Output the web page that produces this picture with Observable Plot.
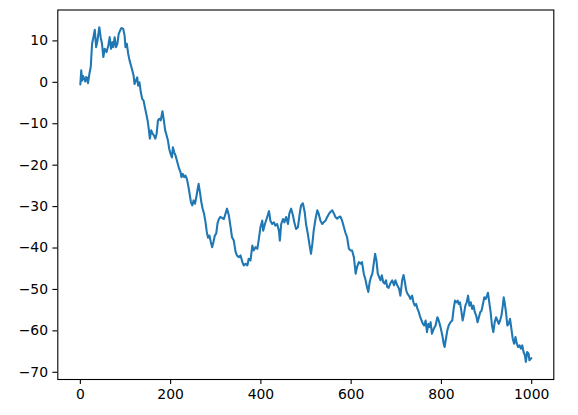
<!DOCTYPE html>
<html>
<head>
<meta charset="utf-8">
<script src="https://cdn.jsdelivr.net/npm/d3@7"></script>
<script src="https://cdn.jsdelivr.net/npm/@observablehq/plot@0.6"></script>
<style>
  html, body { margin: 0; padding: 0; background: white; }
  #chart svg { display: block; }
</style>
</head>
<body>
<div id="chart"></div>
<script>
const steps = [0,2,4,6,8,11,13,15,17,20,23,26,29,32,35,38,42,45,48,51,54,58,62,65,68,71,73,76,79,82,85,88,91,95,98,100,103,106,109,112,115,118,120,123,126,128,131,134,137,140,143,146,149,152,154,157,160,163,166,169,172,175,178,182,185,188,191,194,197,200,203,205,208,211,213,216,219,222,224,227,230,233,236,239,242,245,248,251,254,257,260,262,265,268,271,274,277,280,283,286,289,292,295,298,301,304,307,310,318,325,329,333,336,340,344,347,351,355,359,362,366,370,373,377,381,384,388,392,395,399,403,405,409,414,418,421,425,429,432,436,440,442,445,449,452,456,460,463,467,471,474,478,482,486,489,493,497,500,504,508,511,514,517,521,525,528,532,536,539,543,547,551,554,558,562,565,569,573,576,580,584,587,591,595,599,602,606,610,613,617,621,624,628,632,635,638,641,644,647,650,653,656,659,662,665,668,671,674,677,680,683,687,691,695,698,702,706,709,713,716,719,722,725,728,731,735,738,741,744,747,750,753,756,759,762,765,768,771,774,776,779,783,787,791,794,798,802,805,807,810,813,816,820,824,827,830,833,836,838,841,844,847,850,853,856,859,862,865,868,871,874,877,880,883,886,889,892,895,898,901,903,906,909,912,915,918,921,924,927,930,933,936,938,940,943,946,949,952,955,958,961,964,967,970,973,976,979,982,985,987,990,993,995,998,999];
const values = [-0.5,2.9,0.4,1.5,1.0,0.2,1.3,1.1,-0.2,2.0,3.7,9.3,10.9,12.7,8.5,10.1,13.3,10.9,9.3,6.1,8.1,7.3,8.9,10.9,8.1,9.7,8.5,10.9,8.5,9.3,11.7,12.5,13.1,12.9,11.3,8.5,9.3,6.9,5.3,4.1,2.9,1.6,-0.4,0.4,1.2,-0.8,0,-2.4,-4.0,-4.4,-6.0,-7.6,-9.2,-11.6,-13.6,-11.6,-12.4,-12.8,-13.6,-12.4,-9.2,-8.8,-9.2,-7.0,-9.2,-11.6,-12.8,-14.0,-16.1,-17.3,-18.1,-15.7,-16.9,-17.7,-18.5,-19.7,-20.9,-21.7,-22.9,-22.1,-22.9,-22.5,-23.3,-24.9,-26.9,-28.9,-29.7,-28.5,-29.3,-27.7,-25.7,-24.5,-26.5,-28.9,-30.5,-31.7,-33.5,-36.0,-37.5,-37.0,-38.5,-39.8,-38.5,-37.0,-36.5,-34.0,-33.0,-32.5,-33.0,-30.5,-32.1,-35.0,-37.4,-38.2,-41.0,-41.8,-42.2,-41.8,-43.4,-44.2,-43.8,-44.2,-42.6,-43.0,-39.4,-40.6,-39.8,-40.2,-38.2,-35.0,-33.4,-35.8,-34.2,-32.5,-31.1,-33.4,-34.2,-33.8,-34.6,-34.2,-35.8,-38.2,-34.2,-33.0,-33.8,-32.5,-34.2,-31.7,-30.5,-32.1,-33.8,-35.4,-35.0,-31.7,-29.7,-29.2,-31.3,-34.2,-36.6,-39.4,-41.4,-39.0,-35.8,-33.0,-30.9,-31.7,-33.4,-34.2,-33.8,-33.4,-32.5,-31.7,-31.3,-30.9,-31.7,-32.5,-32.9,-32.5,-32.4,-33.4,-35.0,-36.2,-37.4,-40.2,-40.6,-40.6,-42.2,-46.2,-44.6,-43.4,-43.8,-43.4,-46.2,-47.8,-49.4,-50.6,-48.2,-47.0,-46.2,-43.8,-41.4,-43.0,-46.2,-47.0,-47.8,-46.6,-48.2,-48.6,-47.8,-49.4,-49.6,-48.5,-47.8,-49.0,-47.8,-49.0,-49.8,-51.5,-47.8,-46.5,-48.2,-50.2,-51.1,-51.5,-52.3,-51.5,-53.1,-53.9,-53.5,-54.7,-55.5,-56.7,-57.5,-58.3,-58.7,-57.5,-60.3,-58.3,-59.1,-57.9,-60.7,-59.5,-58.7,-56.7,-57.5,-59.1,-61.1,-63.1,-63.9,-61.9,-59.9,-58.7,-57.9,-57.5,-54.7,-52.7,-53.1,-52.7,-53.5,-53.1,-55.1,-57.5,-55.9,-53.9,-53.1,-51.5,-53.9,-53.1,-54.7,-53.9,-55.5,-56.3,-57.9,-56.7,-55.5,-55.1,-53.5,-51.9,-52.3,-51.5,-50.8,-53.1,-55.5,-58.7,-60.3,-57.9,-56.7,-57.5,-58.3,-57.5,-56.3,-53.9,-51.9,-53.1,-55.5,-58.7,-58.3,-57.1,-59.5,-61.9,-63.1,-61.5,-63.1,-63.9,-63.5,-64.3,-63.5,-65.1,-65.9,-67.5,-65.1,-65.5,-67.1,-66.7,-66.6];
const xTicks = [0, 200, 400, 600, 800, 1000];
const yTicks = [-70, -60, -50, -40, -30, -20, -10, 0, 10];

const data = steps.map((s, i) => ({step: s, value: values[i]}));
const fmt = d => (d < 0 ? "\u2212" + Math.abs(d) : String(d));

const chart = Plot.plot({
  width: 578,
  height: 415,
  marginLeft: 57.3,
  marginRight: 24.7,
  marginTop: 9.5,
  marginBottom: 36,
  x: {domain: [-49.95, 1048.95]},
  y: {domain: [-71.74, 17.46]},
  style: {fontFamily: "'DejaVu Sans', sans-serif", fontSize: "13.9px", color: "black", background: "white"},
  marks: [
    Plot.line(data, {x: "step", y: "value", stroke: "#1f77b4", strokeWidth: 2.08, clip: true}),
    Plot.frame({stroke: "black", strokeWidth: 1.1}),
    Plot.axisX({ticks: xTicks, tickSize: 4.9, tickPadding: 4.9, strokeWidth: 1.1, label: null, tickFormat: fmt}),
    Plot.axisY({ticks: yTicks, tickSize: 4.9, tickPadding: 4.9, strokeWidth: 1.1, label: null, tickFormat: fmt})
  ]
});
document.getElementById("chart").appendChild(chart);
</script>
</body>
</html>
